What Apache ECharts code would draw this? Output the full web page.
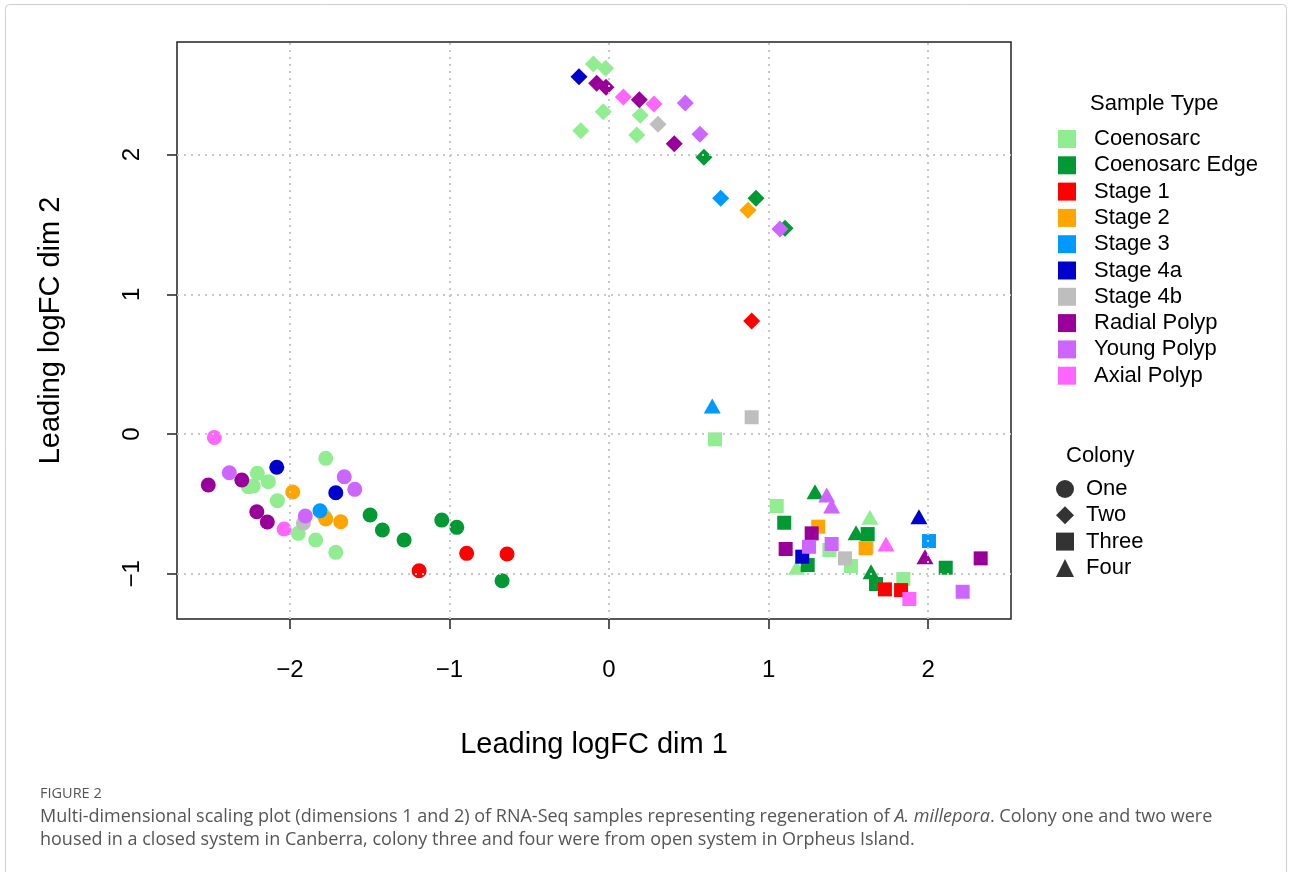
<!DOCTYPE html>
<html>
<head>
<meta charset="utf-8">
<script src="https://cdn.jsdelivr.net/npm/echarts@6/dist/echarts.min.js"></script>
<style>
  html, body { margin: 0; padding: 0; background: #fff; }
  #chart { width: 1292px; height: 872px; }
</style>
</head>
<body>
<div id="chart"></div>
<script>
// sample points: [dim1, dim2, colony]
var coenosarc = [
    [-2.204, -0.281, 'One'], [-2.135, -0.341, 'One'], [-2.260, -0.377, 'One'], [-2.229, -0.372, 'One'],
    [-2.078, -0.477, 'One'], [-1.775, -0.174, 'One'], [-1.784, -0.587, 'One'], [-1.947, -0.711, 'One'],
    [-1.838, -0.759, 'One'], [-1.712, -0.847, 'One'],
    [-0.098, 2.649, 'Two'], [-0.021, 2.618, 'Two'], [-0.036, 2.307, 'Two'], [0.196, 2.281, 'Two'],
    [-0.177, 2.171, 'Two'], [0.174, 2.140, 'Two'],
    [0.664, -0.038, 'Three'], [1.051, -0.515, 'Three'], [1.381, -0.830, 'Three'], [1.516, -0.945, 'Three'],
    [1.615, -0.807, 'Three'], [1.844, -1.038, 'Three'],
    [1.176, -0.954, 'Four'], [1.635, -0.596, 'Four']
];
var coenosarcEdge = [
    [-1.497, -0.580, 'One'], [-1.420, -0.687, 'One'], [-1.284, -0.759, 'One'], [-1.048, -0.616, 'One'],
    [-0.954, -0.668, 'One'], [-0.670, -1.050, 'One'],
    [0.595, 1.981, 'Two'], [0.921, 1.687, 'Two'], [1.103, 1.472, 'Two'],
    [1.098, -0.635, 'Three'], [1.245, -0.938, 'Three'], [1.621, -0.716, 'Three'], [1.673, -1.074, 'Three'],
    [2.110, -0.957, 'Three'],
    [1.291, -0.413, 'Four'], [1.548, -0.706, 'Four'], [1.642, -0.986, 'Four']
];
var stage1 = [
    [-1.190, -0.979, 'One'], [-0.892, -0.854, 'One'], [-0.639, -0.859, 'One'],
    [0.894, 0.809, 'Two'],
    [1.729, -1.112, 'Three'], [1.830, -1.117, 'Three']
];
var stage2 = [
    [-1.982, -0.415, 'One'], [-1.775, -0.608, 'One'], [-1.681, -0.628, 'One'],
    [0.871, 1.601, 'Two'],
    [1.311, -0.663, 'Three'], [1.608, -0.818, 'Three']
];
var stage3 = [
    [-1.811, -0.549, 'One'],
    [0.700, 1.687, 'Two'],
    [2.005, -0.766, 'Three'],
    [0.647, 0.200, 'Four']
];
var stage4a = [
    [-2.082, -0.238, 'One'], [-1.712, -0.420, 'One'],
    [-0.188, 2.558, 'Two'],
    [1.211, -0.878, 'Three'],
    [1.942, -0.592, 'Four']
];
var stage4b = [
    [-1.915, -0.639, 'One'],
    [0.307, 2.217, 'Two'],
    [0.894, 0.120, 'Three'], [1.479, -0.890, 'Three']
];
var radialPolyp = [
    [-2.511, -0.365, 'One'], [-2.301, -0.329, 'One'], [-2.207, -0.556, 'One'], [-2.141, -0.630, 'One'],
    [-0.077, 2.510, 'Two'], [-0.019, 2.482, 'Two'], [0.190, 2.393, 'Two'], [0.409, 2.078, 'Two'],
    [1.270, -0.711, 'Three'], [1.107, -0.823, 'Three'], [2.329, -0.890, 'Three'],
    [1.980, -0.878, 'Four']
];
var youngPolyp = [
    [-2.379, -0.277, 'One'], [-1.903, -0.587, 'One'], [-1.659, -0.306, 'One'], [-1.593, -0.396, 'One'],
    [0.478, 2.369, 'Two'], [0.570, 2.145, 'Two'], [1.071, 1.467, 'Two'],
    [1.253, -0.807, 'Three'], [1.395, -0.787, 'Three'], [2.216, -1.129, 'Three'],
    [1.364, -0.437, 'Four'], [1.395, -0.515, 'Four']
];
var axialPolyp = [
    [-2.473, -0.024, 'One'], [-2.036, -0.680, 'One'],
    [0.090, 2.412, 'Two'], [0.282, 2.362, 'Two'],
    [1.882, -1.181, 'Three'],
    [1.736, -0.787, 'Four']
];

var sampleTypes = ['Coenosarc', 'Coenosarc Edge', 'Stage 1', 'Stage 2', 'Stage 3',
    'Stage 4a', 'Stage 4b', 'Radial Polyp', 'Young Polyp', 'Axial Polyp'];
var sampleData = [coenosarc, coenosarcEdge, stage1, stage2, stage3,
    stage4a, stage4b, radialPolyp, youngPolyp, axialPolyp];
var colonies = ['One', 'Two', 'Three', 'Four'];
var xTicks = [-2, -1, 0, 1, 2];
var yTicks = [-1, 0, 1, 2];

var colors = ['#90ee90', '#009933', '#ff0000', '#ffa500', '#0099ff',
    '#0000cc', '#bebebe', '#990099', '#cc66ff', '#ff66ff'];
var shapeOf = {One: 'circle', Two: 'diamond', Three: 'rect', Four: 'triangle'};
var sizeOf = {One: 15, Two: [17, 17], Three: 14, Four: [17, 15]};

var fam = 'Liberation Sans, Arial, sans-serif';
var minus = function (v) { return String(v).replace('-', '\u2212'); };

var series = [{
    type: 'scatter',
    data: [],
    z: 1,
    silent: true,
    markLine: {
        silent: true,
        symbol: 'none',
        animation: false,
        label: {show: false},
        lineStyle: {color: '#c8c8c8', type: [2, 5], width: 2},
        data: xTicks.map(function (v) { return {xAxis: v}; })
            .concat(yTicks.map(function (v) { return {yAxis: v}; }))
    }
}];

sampleTypes.forEach(function (name, k) {
    series.push({
        name: name,
        type: 'scatter',
        z: 2,
        data: sampleData[k],
        symbol: function (v) { return shapeOf[v[2]]; },
        symbolSize: function (v) { return sizeOf[v[2]]; },
        itemStyle: {color: colors[k], opacity: 1},
        emphasis: {disabled: true}
    });
});
colonies.forEach(function (name) {
    series.push({name: name, type: 'scatter', data: [], itemStyle: {color: '#000'}});
});

var chart = echarts.init(document.getElementById('chart'));
chart.setOption({
    animation: false,
    textStyle: {fontFamily: fam},
    grid: {
        left: 177, top: 42, width: 834, height: 577,
        show: true, borderColor: '#222', borderWidth: 1.5
    },
    xAxis: {
        type: 'value',
        min: -2.707, max: 2.519,
        axisLine: {show: false, onZero: false},
        splitLine: {show: false},
        axisTick: {show: true, customValues: xTicks, length: 10, lineStyle: {color: '#222', width: 1.5}},
        axisLabel: {customValues: xTicks, formatter: minus, fontSize: 24, color: '#000', margin: 39},
        name: 'Leading logFC dim 1',
        nameLocation: 'middle',
        nameGap: 111,
        nameTextStyle: {fontSize: 29, color: '#000'}
    },
    yAxis: {
        type: 'value',
        min: -1.324, max: 2.806,
        axisLine: {show: false, onZero: false},
        splitLine: {show: false},
        axisTick: {show: true, customValues: yTicks, length: 10, lineStyle: {color: '#222', width: 1.5}},
        axisLabel: {customValues: yTicks, formatter: minus, fontSize: 24, color: '#000', margin: 33, rotate: 90},
        name: 'Leading logFC dim 2',
        nameLocation: 'middle',
        nameGap: 112,
        nameTextStyle: {fontSize: 29, color: '#000'}
    },
    legend: [{
        orient: 'vertical',
        left: 1058, top: 128, padding: 0,
        itemWidth: 18, itemHeight: 18, itemGap: 4.3,
        selectedMode: false,
        icon: 'rect',
        data: sampleTypes,
        textStyle: {fontSize: 22, color: '#000', padding: [0, 0, 0, 13]}
    }, {
        orient: 'vertical',
        left: 1056, top: 478, padding: 0,
        itemWidth: 18, itemHeight: 18, itemGap: 4.3,
        selectedMode: false,
        data: colonies.map(function (c) { return {name: c, icon: shapeOf[c]}; }),
        textStyle: {fontSize: 22, color: '#000', padding: [0, 0, 0, 7]}
    }],
    graphic: [
        {type: 'rect', silent: true, shape: {x: 5.5, y: 4.5, width: 1281, height: 900, r: 4},
            style: {fill: 'none', stroke: '#cfcfcf', lineWidth: 1}},
        {type: 'text', left: 1090, top: 93, style: {text: 'Sample Type', fontSize: 22, fontFamily: fam, fill: '#000'}},
        {type: 'text', left: 1066, top: 445, style: {text: 'Colony', fontSize: 22, fontFamily: fam, fill: '#000'}},
        {type: 'text', left: 40, top: 786, style: {text: 'FIGURE 2', fontSize: 14.5, fontFamily: 'Open Sans', fill: '#555'}},
        {type: 'text', left: 40, top: 808, style: {
            text: 'Multi-dimensional scaling plot (dimensions 1 and 2) of RNA-Seq samples representing regeneration of {i|A. millepora}. Colony one and two were',
            fontSize: 18, fontFamily: 'Open Sans', fill: '#555',
            rich: {i: {fontStyle: 'italic', fontSize: 18, fontFamily: 'Open Sans', fill: '#555'}}
        }},
        {type: 'text', left: 40, top: 831, style: {
            text: 'housed in a closed system in Canberra, colony three and four were from open system in Orpheus Island.',
            fontSize: 18, fontFamily: 'Open Sans', fill: '#555'
        }}
    ],
    series: series
});
</script>
</body>
</html>
